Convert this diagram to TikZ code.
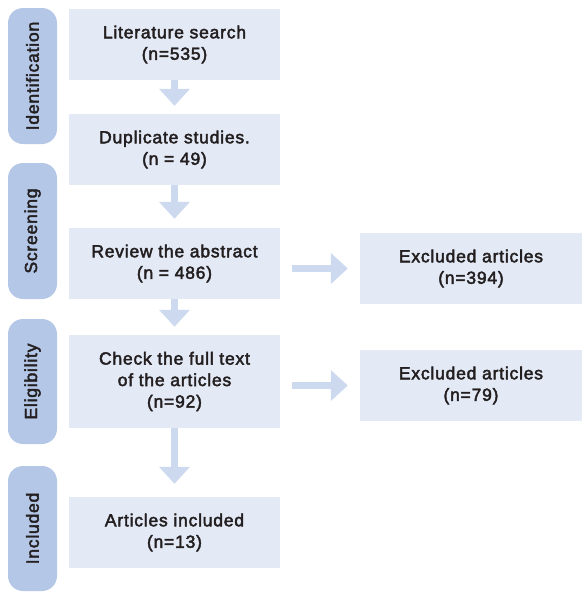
\documentclass[tikz,border=0pt]{standalone}
\usepackage{fontspec}
\setmainfont{Liberation Sans}
\newfontfamily\medfont{Liberation Sans}[LetterSpace=4.5, FakeBold=2.5]
\usetikzlibrary{arrows.meta}
\definecolor{boxfill}{HTML}{E3E9F5}
\definecolor{labfill}{HTML}{B4C7E7}
\definecolor{arrcol}{HTML}{CDD9EE}
\definecolor{txt}{HTML}{231F20}
\tikzset{
  mainbox/.style={rectangle, fill=boxfill, inner sep=0pt, align=center, text=txt,
    font=\medfont\fontsize{17.5pt}{21.5pt}\selectfont},
  sidelab/.style={rectangle, rounded corners=15pt, fill=labfill, inner sep=0pt, rotate=90,
    text=txt, font=\medfont\fontsize{17.5pt}{21.5pt}\selectfont},
  blockarrow/.style={draw=arrcol, line width=6.5pt, -{Triangle[width=30pt,length=17pt]}},
}
\begin{document}
\begin{tikzpicture}[x=1pt,y=-1pt]
\useasboundingbox (0,0) rectangle (582,592);
% side labels
\node[sidelab, minimum width=136pt, minimum height=49pt] (l1) at (32.5,76) {Identification};
\node[sidelab, minimum width=136pt, minimum height=49pt] (l2) at (32.5,231) {Screening};
\node[sidelab, minimum width=125pt, minimum height=49pt] (l3) at (32.5,381.5) {Eligibility};
\node[sidelab, minimum width=125pt, minimum height=49pt] (l4) at (32.5,528.5) {Included};
% main boxes
\node[mainbox, minimum width=211pt, minimum height=71pt] (b1) at (174.5,44.5) {Literature search\\(n=535)};
\node[mainbox, minimum width=211pt, minimum height=71pt] (b2) at (174.5,149.5) {Duplicate studies.\\(n = 49)};
\node[mainbox, minimum width=211pt, minimum height=71pt] (b3) at (174.5,263.5) {Review the abstract\\(n = 486)};
\node[mainbox, minimum width=211pt, minimum height=93pt] (b4) at (174.5,381.5) {Check the full text\\of the articles\\(n=92)};
\node[mainbox, minimum width=211pt, minimum height=71pt] (b5) at (174.5,532.5) {Articles included\\(n=13)};
% right boxes
\node[mainbox, minimum width=222pt, minimum height=71pt] (r1) at (471,268.5) {Excluded articles\\(n=394)};
\node[mainbox, minimum width=222pt, minimum height=71pt] (r2) at (471,385.5) {Excluded articles\\(n=79)};
% arrows
\draw[blockarrow, shorten >=8pt] (b1.south) -- (b2.north);
\draw[blockarrow, shorten >=9pt] (b2.south) -- (b3.north);
\draw[blockarrow, shorten >=8pt] (b3.south) -- (b4.north);
\draw[blockarrow, shorten >=13pt] (b4.south) -- (b5.north);
\draw[blockarrow, shorten <=12pt, shorten >=12pt] (b3.east |- r1.west) -- (r1.west);
\draw[blockarrow, shorten <=12pt, shorten >=12pt] (b4.east |- r2.west) -- (r2.west);
\end{tikzpicture}
\end{document}
